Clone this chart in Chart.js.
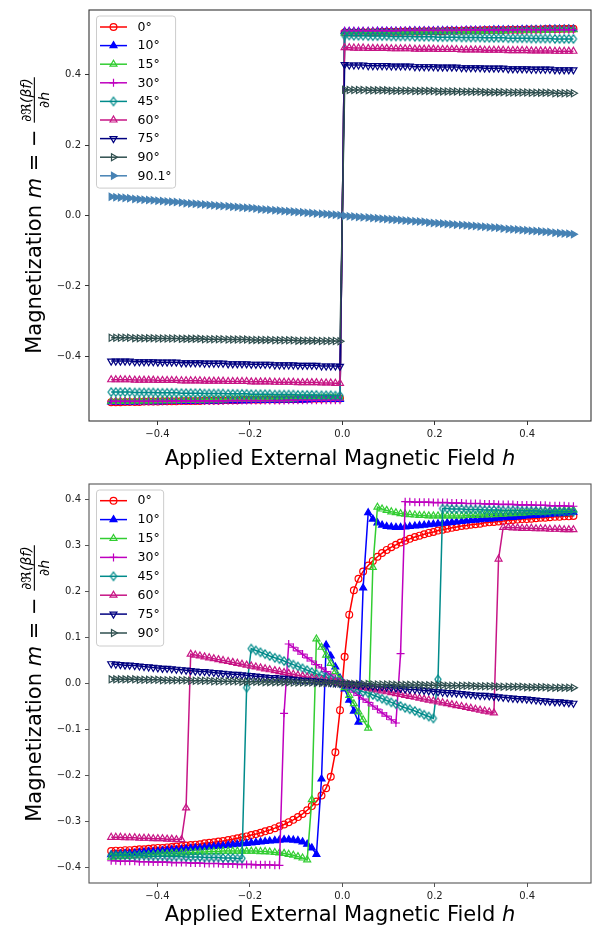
<!DOCTYPE html>
<html>
<head>
<meta charset="utf-8">
<script src="https://cdn.jsdelivr.net/npm/chart.js@4.4.0/dist/chart.umd.min.js"></script>
<style>
  html, body { margin: 0; padding: 0; background: #fff; }
  #wrap { position: relative; width: 592px; height: 929px; }
  canvas { position: absolute; left: 0; }
</style>
</head>
<body>
<div id="wrap">
  <canvas id="topChart" width="592" height="470" style="top:0;width:592px;height:470px"></canvas>
  <canvas id="bottomChart" width="592" height="459" style="top:470px;width:592px;height:459px"></canvas>
</div>
<script>
// applied field h (100 samples from -0.5 to 0.5)
const H = [-0.500,-0.490,-0.480,-0.470,-0.460,-0.449,-0.439,-0.429,-0.419,-0.409,
  -0.399,-0.389,-0.379,-0.369,-0.359,-0.348,-0.338,-0.328,-0.318,-0.308,
  -0.298,-0.288,-0.278,-0.268,-0.258,-0.247,-0.237,-0.227,-0.217,-0.207,
  -0.197,-0.187,-0.177,-0.167,-0.157,-0.146,-0.136,-0.126,-0.116,-0.106,
  -0.096,-0.086,-0.076,-0.066,-0.056,-0.045,-0.035,-0.025,-0.015,-0.005,
  0.005,0.015,0.025,0.035,0.045,0.056,0.066,0.076,0.086,0.096,
  0.106,0.116,0.126,0.136,0.146,0.157,0.167,0.177,0.187,0.197,
  0.207,0.217,0.227,0.237,0.247,0.258,0.268,0.278,0.288,0.298,
  0.308,0.318,0.328,0.338,0.348,0.359,0.369,0.379,0.389,0.399,
  0.409,0.419,0.429,0.439,0.449,0.460,0.470,0.480,0.490,0.500];

const TOP_LABELS = ['0°', '10°', '15°', '30°', '45°', '60°', '75°', '90°', '90.1°'];
const BOTTOM_LABELS = ['0°', '10°', '15°', '30°', '45°', '60°', '75°', '90°'];

const X_TICKS = [-0.4, -0.2, 0.0, 0.2, 0.4];
const Y_TICKS_TOP = [-0.4, -0.2, 0.0, 0.2, 0.4];
const Y_TICKS_BOTTOM = [-0.4, -0.3, -0.2, -0.1, 0.0, 0.1, 0.2, 0.3, 0.4];

const X_TITLE = ['Applied External Magnetic Field ', 'h'];
const Y_TITLE = ['Magnetization ', 'm', ' = \u2212 '];
const Y_FRAC = ['\u2202\u211C(\u03B2f)', '\u2202h'];

// ---- top panel ----
const T_0 = [-0.530,-0.530,-0.530,-0.529,-0.529,-0.529,-0.529,-0.528,-0.528,-0.528,
  -0.528,-0.527,-0.527,-0.527,-0.527,-0.526,-0.526,-0.526,-0.526,-0.526,
  -0.525,-0.525,-0.525,-0.525,-0.524,-0.524,-0.524,-0.524,-0.523,-0.523,
  -0.523,-0.523,-0.523,-0.522,-0.522,-0.522,-0.522,-0.521,-0.521,-0.521,
  -0.521,-0.521,-0.520,-0.520,-0.520,-0.520,-0.519,-0.519,-0.519,-0.519,
  0.519,0.519,0.519,0.519,0.520,0.520,0.520,0.520,0.521,0.521,
  0.521,0.521,0.521,0.522,0.522,0.522,0.522,0.523,0.523,0.523,
  0.523,0.523,0.524,0.524,0.524,0.524,0.525,0.525,0.525,0.525,
  0.526,0.526,0.526,0.526,0.526,0.527,0.527,0.527,0.527,0.528,
  0.528,0.528,0.528,0.529,0.529,0.529,0.529,0.530,0.530,0.530];
const T_10 = [-0.529,-0.529,-0.529,-0.529,-0.529,-0.529,-0.528,-0.528,-0.528,-0.528,
  -0.528,-0.528,-0.527,-0.527,-0.527,-0.527,-0.527,-0.527,-0.526,-0.526,
  -0.526,-0.526,-0.526,-0.526,-0.525,-0.525,-0.525,-0.525,-0.525,-0.525,
  -0.524,-0.524,-0.524,-0.524,-0.524,-0.524,-0.523,-0.523,-0.523,-0.523,
  -0.523,-0.523,-0.523,-0.522,-0.522,-0.522,-0.522,-0.522,-0.522,-0.522,
  0.522,0.522,0.522,0.522,0.522,0.522,0.522,0.523,0.523,0.523,
  0.523,0.523,0.523,0.523,0.524,0.524,0.524,0.524,0.524,0.524,
  0.525,0.525,0.525,0.525,0.525,0.525,0.526,0.526,0.526,0.526,
  0.526,0.526,0.527,0.527,0.527,0.527,0.527,0.527,0.528,0.528,
  0.528,0.528,0.528,0.528,0.529,0.529,0.529,0.529,0.529,0.529];
const T_15 = [-0.527,-0.527,-0.527,-0.527,-0.527,-0.526,-0.526,-0.526,-0.526,-0.526,
  -0.525,-0.525,-0.525,-0.525,-0.525,-0.524,-0.524,-0.524,-0.524,-0.524,
  -0.523,-0.523,-0.523,-0.523,-0.523,-0.522,-0.522,-0.522,-0.522,-0.522,
  -0.521,-0.521,-0.521,-0.521,-0.521,-0.520,-0.520,-0.520,-0.520,-0.520,
  -0.519,-0.519,-0.519,-0.519,-0.519,-0.518,-0.518,-0.518,-0.518,-0.518,
  0.518,0.518,0.518,0.518,0.518,0.519,0.519,0.519,0.519,0.519,
  0.520,0.520,0.520,0.520,0.520,0.521,0.521,0.521,0.521,0.521,
  0.522,0.522,0.522,0.522,0.522,0.523,0.523,0.523,0.523,0.523,
  0.524,0.524,0.524,0.524,0.524,0.525,0.525,0.525,0.525,0.525,
  0.526,0.526,0.526,0.526,0.526,0.527,0.527,0.527,0.527,0.527];
const T_30 = [-0.527,-0.527,-0.527,-0.527,-0.527,-0.527,-0.527,-0.527,-0.527,-0.527,
  -0.527,-0.527,-0.527,-0.526,-0.526,-0.526,-0.526,-0.526,-0.526,-0.526,
  -0.526,-0.526,-0.526,-0.526,-0.526,-0.525,-0.525,-0.525,-0.525,-0.525,
  -0.525,-0.525,-0.525,-0.525,-0.525,-0.525,-0.525,-0.525,-0.524,-0.524,
  -0.524,-0.524,-0.524,-0.524,-0.524,-0.524,-0.524,-0.524,-0.524,-0.524,
  0.524,0.524,0.524,0.524,0.524,0.524,0.524,0.524,0.524,0.524,
  0.524,0.524,0.525,0.525,0.525,0.525,0.525,0.525,0.525,0.525,
  0.525,0.525,0.525,0.525,0.525,0.526,0.526,0.526,0.526,0.526,
  0.526,0.526,0.526,0.526,0.526,0.526,0.526,0.527,0.527,0.527,
  0.527,0.527,0.527,0.527,0.527,0.527,0.527,0.527,0.527,0.527];
const T_45 = [-0.501,-0.501,-0.501,-0.501,-0.501,-0.502,-0.502,-0.502,-0.502,-0.502,
  -0.503,-0.503,-0.503,-0.503,-0.503,-0.504,-0.504,-0.504,-0.504,-0.504,
  -0.505,-0.505,-0.505,-0.505,-0.505,-0.506,-0.506,-0.506,-0.506,-0.506,
  -0.507,-0.507,-0.507,-0.507,-0.507,-0.508,-0.508,-0.508,-0.508,-0.508,
  -0.509,-0.509,-0.509,-0.509,-0.509,-0.510,-0.510,-0.510,-0.511,-0.511,
  0.511,0.511,0.510,0.510,0.510,0.509,0.509,0.509,0.509,0.509,
  0.508,0.508,0.508,0.508,0.508,0.507,0.507,0.507,0.507,0.507,
  0.506,0.506,0.506,0.506,0.506,0.505,0.505,0.505,0.505,0.505,
  0.504,0.504,0.504,0.504,0.504,0.503,0.503,0.503,0.503,0.503,
  0.502,0.502,0.502,0.502,0.502,0.501,0.501,0.501,0.501,0.501];
const T_60 = [-0.466,-0.466,-0.466,-0.466,-0.466,-0.467,-0.467,-0.467,-0.467,-0.467,
  -0.468,-0.468,-0.468,-0.468,-0.468,-0.469,-0.469,-0.469,-0.469,-0.469,
  -0.470,-0.470,-0.470,-0.470,-0.470,-0.471,-0.471,-0.471,-0.471,-0.471,
  -0.472,-0.472,-0.472,-0.472,-0.472,-0.473,-0.473,-0.473,-0.473,-0.473,
  -0.474,-0.474,-0.474,-0.474,-0.474,-0.475,-0.475,-0.475,-0.476,-0.476,
  0.476,0.476,0.475,0.475,0.475,0.474,0.474,0.474,0.474,0.474,
  0.473,0.473,0.473,0.473,0.473,0.472,0.472,0.472,0.472,0.472,
  0.471,0.471,0.471,0.471,0.471,0.470,0.470,0.470,0.470,0.470,
  0.469,0.469,0.469,0.469,0.469,0.468,0.468,0.468,0.468,0.468,
  0.467,0.467,0.467,0.467,0.467,0.466,0.466,0.466,0.466,0.466];
const T_75 = [-0.413,-0.413,-0.413,-0.413,-0.413,-0.415,-0.415,-0.415,-0.415,-0.415,
  -0.416,-0.416,-0.416,-0.416,-0.416,-0.418,-0.418,-0.418,-0.418,-0.418,
  -0.419,-0.419,-0.419,-0.419,-0.419,-0.421,-0.421,-0.421,-0.421,-0.421,
  -0.422,-0.422,-0.422,-0.422,-0.422,-0.424,-0.424,-0.424,-0.424,-0.424,
  -0.425,-0.425,-0.425,-0.425,-0.425,-0.427,-0.427,-0.427,-0.427,-0.428,
  0.428,0.427,0.427,0.427,0.427,0.425,0.425,0.425,0.425,0.425,
  0.424,0.424,0.424,0.424,0.424,0.422,0.422,0.422,0.422,0.422,
  0.421,0.421,0.421,0.421,0.421,0.419,0.419,0.419,0.419,0.419,
  0.418,0.418,0.418,0.418,0.418,0.416,0.416,0.416,0.416,0.416,
  0.415,0.415,0.415,0.415,0.415,0.413,0.413,0.413,0.413,0.413];
const T_90 = [-0.347,-0.347,-0.347,-0.347,-0.347,-0.348,-0.348,-0.348,-0.348,-0.348,
  -0.349,-0.349,-0.349,-0.349,-0.349,-0.350,-0.350,-0.350,-0.350,-0.350,
  -0.351,-0.351,-0.351,-0.351,-0.351,-0.352,-0.352,-0.352,-0.352,-0.352,
  -0.353,-0.353,-0.353,-0.353,-0.353,-0.354,-0.354,-0.354,-0.354,-0.354,
  -0.355,-0.355,-0.355,-0.355,-0.355,-0.356,-0.356,-0.356,-0.356,-0.357,
  0.357,0.356,0.356,0.356,0.356,0.355,0.355,0.355,0.355,0.355,
  0.354,0.354,0.354,0.354,0.354,0.353,0.353,0.353,0.353,0.353,
  0.352,0.352,0.352,0.352,0.352,0.351,0.351,0.351,0.351,0.351,
  0.350,0.350,0.350,0.350,0.350,0.349,0.349,0.349,0.349,0.349,
  0.348,0.348,0.348,0.348,0.348,0.347,0.347,0.347,0.347,0.347];
const T_901 = [0.053,0.052,0.051,0.050,0.049,0.047,0.046,0.045,0.044,0.043,
  0.042,0.041,0.040,0.039,0.038,0.037,0.035,0.034,0.033,0.032,
  0.031,0.030,0.029,0.028,0.027,0.026,0.025,0.024,0.023,0.022,
  0.021,0.020,0.018,0.017,0.016,0.015,0.014,0.013,0.012,0.011,
  0.010,0.009,0.008,0.007,0.006,0.005,0.004,0.003,0.002,0.001,
  -0.001,-0.002,-0.003,-0.004,-0.005,-0.006,-0.007,-0.008,-0.009,-0.010,
  -0.011,-0.012,-0.013,-0.014,-0.015,-0.016,-0.017,-0.018,-0.020,-0.021,
  -0.022,-0.023,-0.024,-0.025,-0.026,-0.027,-0.028,-0.029,-0.030,-0.031,
  -0.032,-0.033,-0.034,-0.035,-0.037,-0.038,-0.039,-0.040,-0.041,-0.042,
  -0.043,-0.044,-0.045,-0.046,-0.047,-0.049,-0.050,-0.051,-0.052,-0.053];

// ---- bottom panel ----
const B_0 = [-0.365,-0.364,-0.364,-0.363,-0.363,-0.362,-0.361,-0.361,-0.360,-0.359,
  -0.358,-0.358,-0.357,-0.356,-0.355,-0.354,-0.353,-0.352,-0.351,-0.350,
  -0.348,-0.347,-0.346,-0.344,-0.343,-0.341,-0.339,-0.337,-0.335,-0.333,
  -0.330,-0.328,-0.325,-0.322,-0.319,-0.315,-0.311,-0.307,-0.302,-0.297,
  -0.291,-0.284,-0.276,-0.267,-0.257,-0.244,-0.228,-0.203,-0.150,-0.058,
  0.058,0.150,0.203,0.228,0.244,0.257,0.267,0.276,0.284,0.291,
  0.297,0.302,0.307,0.311,0.315,0.319,0.322,0.325,0.328,0.330,
  0.333,0.335,0.337,0.339,0.341,0.343,0.344,0.346,0.347,0.348,
  0.350,0.351,0.352,0.353,0.354,0.355,0.356,0.357,0.358,0.358,
  0.359,0.360,0.361,0.361,0.362,0.363,0.363,0.364,0.364,0.365];
const B_10 = [-0.373,-0.372,-0.371,-0.370,-0.370,-0.369,-0.368,-0.367,-0.366,-0.366,
  -0.365,-0.364,-0.363,-0.362,-0.362,-0.361,-0.360,-0.359,-0.358,-0.358,
  -0.357,-0.356,-0.355,-0.354,-0.353,-0.352,-0.351,-0.350,-0.349,-0.348,
  -0.347,-0.346,-0.345,-0.344,-0.343,-0.342,-0.341,-0.340,-0.340,-0.341,
  -0.342,-0.345,-0.350,-0.358,-0.372,-0.208,0.084,0.060,0.036,0.012,
  -0.012,-0.036,-0.060,-0.084,0.208,0.372,0.358,0.350,0.345,0.342,
  0.341,0.340,0.340,0.341,0.342,0.343,0.344,0.345,0.346,0.347,
  0.348,0.349,0.350,0.351,0.352,0.353,0.354,0.355,0.356,0.357,
  0.358,0.358,0.359,0.360,0.361,0.362,0.362,0.363,0.364,0.365,
  0.366,0.366,0.367,0.368,0.369,0.370,0.370,0.371,0.372,0.373];
const B_15 = [-0.378,-0.377,-0.377,-0.376,-0.376,-0.375,-0.374,-0.374,-0.373,-0.373,
  -0.372,-0.371,-0.371,-0.370,-0.370,-0.369,-0.369,-0.368,-0.368,-0.367,
  -0.367,-0.366,-0.366,-0.366,-0.365,-0.365,-0.365,-0.365,-0.365,-0.365,
  -0.365,-0.365,-0.366,-0.366,-0.367,-0.368,-0.369,-0.370,-0.372,-0.374,
  -0.377,-0.380,-0.384,-0.253,0.097,0.079,0.062,0.044,0.026,0.009,
  -0.009,-0.026,-0.044,-0.062,-0.079,-0.097,0.253,0.384,0.380,0.377,
  0.374,0.372,0.370,0.369,0.368,0.367,0.366,0.366,0.365,0.365,
  0.365,0.365,0.365,0.365,0.365,0.365,0.366,0.366,0.366,0.367,
  0.367,0.368,0.368,0.369,0.369,0.370,0.370,0.371,0.371,0.372,
  0.373,0.373,0.374,0.374,0.375,0.376,0.376,0.377,0.377,0.378];
const B_30 = [-0.386,-0.386,-0.387,-0.387,-0.387,-0.387,-0.388,-0.388,-0.388,-0.389,
  -0.389,-0.389,-0.389,-0.390,-0.390,-0.390,-0.390,-0.391,-0.391,-0.391,
  -0.392,-0.392,-0.392,-0.392,-0.393,-0.393,-0.393,-0.394,-0.394,-0.394,
  -0.394,-0.395,-0.395,-0.395,-0.395,-0.396,-0.396,-0.065,0.086,0.079,
  0.071,0.064,0.056,0.049,0.041,0.034,0.026,0.019,0.011,0.004,
  -0.004,-0.011,-0.019,-0.026,-0.034,-0.041,-0.049,-0.056,-0.064,-0.071,
  -0.079,-0.086,0.065,0.396,0.396,0.395,0.395,0.395,0.395,0.394,
  0.394,0.394,0.394,0.393,0.393,0.393,0.392,0.392,0.392,0.392,
  0.391,0.391,0.391,0.390,0.390,0.390,0.390,0.389,0.389,0.389,
  0.389,0.388,0.388,0.388,0.387,0.387,0.387,0.387,0.386,0.386];
const B_45 = [-0.374,-0.374,-0.374,-0.374,-0.375,-0.375,-0.375,-0.375,-0.376,-0.376,
  -0.376,-0.376,-0.377,-0.377,-0.377,-0.377,-0.378,-0.378,-0.378,-0.378,
  -0.379,-0.379,-0.379,-0.379,-0.380,-0.380,-0.380,-0.381,-0.381,-0.009,
  0.076,0.072,0.068,0.064,0.060,0.056,0.053,0.049,0.045,0.041,
  0.037,0.033,0.029,0.025,0.021,0.018,0.014,0.010,0.006,0.002,
  -0.002,-0.006,-0.010,-0.014,-0.018,-0.021,-0.025,-0.029,-0.033,-0.037,
  -0.041,-0.045,-0.049,-0.053,-0.056,-0.060,-0.064,-0.068,-0.072,-0.076,
  0.009,0.381,0.381,0.380,0.380,0.380,0.379,0.379,0.379,0.379,
  0.378,0.378,0.378,0.378,0.377,0.377,0.377,0.377,0.376,0.376,
  0.376,0.376,0.375,0.375,0.375,0.375,0.374,0.374,0.374,0.374];
const B_60 = [-0.335,-0.335,-0.335,-0.336,-0.336,-0.336,-0.337,-0.337,-0.337,-0.338,
  -0.338,-0.338,-0.339,-0.339,-0.340,-0.340,-0.271,0.064,0.062,0.060,
  0.058,0.056,0.054,0.052,0.050,0.048,0.046,0.044,0.042,0.040,
  0.038,0.036,0.034,0.032,0.030,0.028,0.026,0.024,0.022,0.020,
  0.018,0.016,0.014,0.012,0.010,0.008,0.006,0.004,0.003,0.001,
  -0.001,-0.003,-0.004,-0.006,-0.008,-0.010,-0.012,-0.014,-0.016,-0.018,
  -0.020,-0.022,-0.024,-0.026,-0.028,-0.030,-0.032,-0.034,-0.036,-0.038,
  -0.040,-0.042,-0.044,-0.046,-0.048,-0.050,-0.052,-0.054,-0.056,-0.058,
  -0.060,-0.062,-0.064,0.271,0.340,0.340,0.339,0.339,0.338,0.338,
  0.338,0.337,0.337,0.337,0.336,0.336,0.336,0.335,0.335,0.335];
const B_75 = [0.043,0.042,0.041,0.040,0.040,0.039,0.038,0.037,0.036,0.035,
  0.034,0.033,0.033,0.032,0.031,0.030,0.029,0.028,0.027,0.026,
  0.026,0.025,0.024,0.023,0.022,0.021,0.020,0.020,0.019,0.018,
  0.017,0.016,0.015,0.014,0.013,0.013,0.012,0.011,0.010,0.009,
  0.008,0.007,0.007,0.006,0.005,0.004,0.003,0.002,0.001,0.000,
  0.000,-0.001,-0.002,-0.003,-0.004,-0.005,-0.006,-0.007,-0.007,-0.008,
  -0.009,-0.010,-0.011,-0.012,-0.013,-0.013,-0.014,-0.015,-0.016,-0.017,
  -0.018,-0.019,-0.020,-0.020,-0.021,-0.022,-0.023,-0.024,-0.025,-0.026,
  -0.026,-0.027,-0.028,-0.029,-0.030,-0.031,-0.032,-0.033,-0.033,-0.034,
  -0.035,-0.036,-0.037,-0.038,-0.039,-0.040,-0.040,-0.041,-0.042,-0.043];
const B_90 = [0.009,0.009,0.009,0.009,0.009,0.009,0.008,0.008,0.008,0.008,
  0.008,0.007,0.007,0.007,0.007,0.007,0.007,0.006,0.006,0.006,
  0.006,0.006,0.005,0.005,0.005,0.005,0.005,0.005,0.004,0.004,
  0.004,0.004,0.004,0.003,0.003,0.003,0.003,0.003,0.003,0.002,
  0.002,0.002,0.002,0.002,0.001,0.001,0.001,0.001,0.000,0.000,
  0.000,0.000,-0.001,-0.001,-0.001,-0.001,-0.002,-0.002,-0.002,-0.002,
  -0.002,-0.003,-0.003,-0.003,-0.003,-0.003,-0.003,-0.004,-0.004,-0.004,
  -0.004,-0.004,-0.005,-0.005,-0.005,-0.005,-0.005,-0.005,-0.006,-0.006,
  -0.006,-0.006,-0.006,-0.007,-0.007,-0.007,-0.007,-0.007,-0.007,-0.008,
  -0.008,-0.008,-0.008,-0.008,-0.009,-0.009,-0.009,-0.009,-0.009,-0.009];

const TOP_SERIES = [T_0, T_10, T_15, T_30, T_45, T_60, T_75, T_90, T_901];
const BOTTOM_SERIES = [B_0, B_10, B_15, B_30, B_45, B_60, B_75, B_90];

// marker / colour per angle (matplotlib look)
const STYLES = {
  '0°':    { color: '#ff0000', point: 'circle',   r: 3.4 },
  '10°':   { color: '#0000ff', point: 'triangle', r: 4, fill: true },
  '15°':   { color: '#32cd32', point: 'triangle', r: 4 },
  '30°':   { color: '#bf00bf', point: 'cross',    r: 4 },
  '45°':   { color: '#008b8b', point: 'diamond' },
  '60°':   { color: '#c71585', point: 'triangle', r: 4 },
  '75°':   { color: '#000080', point: 'triangle', r: 4, rot: 180 },
  '90°':   { color: '#2f4f4f', point: 'triangle', r: 4, rot: 90 },
  '90.1°': { color: '#4682b4', point: 'triangle', r: 4, rot: 90, fill: true }
};

const FONT = '"DejaVu Sans", sans-serif';
const LEGEND_FONT = '12.5px ' + FONT;

function thinDiamond(color) {
  const c = document.createElement('canvas');
  c.width = 10; c.height = 12;
  const g = c.getContext('2d');
  g.strokeStyle = color; g.lineWidth = 1.2;
  g.beginPath();
  g.moveTo(5, 1.8); g.lineTo(8.1, 6); g.lineTo(5, 10.2); g.lineTo(1.9, 6);
  g.closePath(); g.stroke();
  return c;
}

function buildSets(labels, series) {
  return labels.map((lab, i) => {
    const st = STYLES[lab];
    return {
      label: lab,
      data: H.map((h, k) => ({ x: h, y: series[i][k] })),
      borderColor: st.color,
      borderWidth: 1.5,
      pointStyle: st.point === 'diamond' ? thinDiamond(st.color) : st.point,
      pointRotation: st.rot || 0,
      pointRadius: st.r || 4,
      pointBorderWidth: 1.2,
      pointBorderColor: st.color,
      pointBackgroundColor: st.fill ? st.color : 'rgba(0,0,0,0)',
      tension: 0,
      fill: false,
      order: labels.length - i   // later series drawn on top, like matplotlib
    };
  });
}

function fmt(v) {
  return (v < -1e-9 ? '\u2212' : '') + Math.abs(v).toFixed(1);
}

function roundBox(ctx, x, y, w, h, r) {
  ctx.beginPath();
  ctx.moveTo(x + r, y);
  ctx.arcTo(x + w, y, x + w, y + h, r);
  ctx.arcTo(x + w, y + h, x, y + h, r);
  ctx.arcTo(x, y + h, x, y, r);
  ctx.arcTo(x, y, x + w, y, r);
  ctx.closePath();
}

// frame + legend box + axis titles
const decor = {
  id: 'decor',
  afterDraw(chart, args, o) {
    const ctx = chart.ctx, ca = chart.chartArea;
    ctx.save();
    // axes frame
    ctx.strokeStyle = o.frameColor; ctx.lineWidth = 1.1;
    ctx.strokeRect(ca.left, ca.top, ca.right - ca.left, ca.bottom - ca.top);

    // legend
    const sets = chart.data.datasets;
    ctx.font = LEGEND_FONT;
    const tw = Math.max(...sets.map(d => ctx.measureText(d.label).width));
    const x0 = ca.left + 7.5, y0 = ca.top + 6;
    const bw = 41 + tw + 4, bh = o.padTop + (sets.length - 1) * o.rowH + o.padBottom;
    roundBox(ctx, x0, y0, bw, bh, 3);
    ctx.fillStyle = 'rgba(255,255,255,0.8)'; ctx.fill();
    ctx.strokeStyle = '#cccccc'; ctx.lineWidth = 1; ctx.stroke();
    sets.forEach((d, i) => {
      const y = y0 + o.padTop + i * o.rowH;
      ctx.strokeStyle = d.borderColor; ctx.lineWidth = d.borderWidth;
      ctx.beginPath(); ctx.moveTo(x0 + 3.5, y); ctx.lineTo(x0 + 30.5, y); ctx.stroke();
      ctx.fillStyle = d.pointBackgroundColor;
      ctx.strokeStyle = d.pointBorderColor; ctx.lineWidth = d.pointBorderWidth;
      Chart.helpers.drawPoint(ctx, {
        pointStyle: d.pointStyle, rotation: d.pointRotation, radius: d.pointRadius, borderWidth: d.pointBorderWidth
      }, x0 + 17, y);
      ctx.fillStyle = '#000'; ctx.textBaseline = 'middle'; ctx.textAlign = 'left';
      ctx.font = LEGEND_FONT;
      ctx.fillText(d.label, x0 + 41, y + 0.5);
    });

    // x title
    const reg = o.titleSize + 'px ' + FONT, ita = 'italic ' + o.titleSize + 'px ' + FONT;
    ctx.fillStyle = '#000'; ctx.textBaseline = 'alphabetic'; ctx.textAlign = 'left';
    ctx.font = reg; const w1 = ctx.measureText(X_TITLE[0]).width;
    ctx.font = ita; const w2 = ctx.measureText(X_TITLE[1]).width;
    const xs = (ca.left + ca.right) / 2 - (w1 + w2) / 2;
    ctx.font = reg; ctx.fillText(X_TITLE[0], xs, o.xBase);
    ctx.font = ita; ctx.fillText(X_TITLE[1], xs + w1, o.xBase);

    // y title, rotated, with fraction
    const small = 'italic 14px ' + FONT;
    const parts = [[Y_TITLE[0], reg], [Y_TITLE[1], ita], [Y_TITLE[2], reg]];
    const pw = parts.map(p => { ctx.font = p[1]; return ctx.measureText(p[0]).width; });
    ctx.font = small;
    const nw = ctx.measureText(Y_FRAC[0]).width;
    const dw = ctx.measureText(Y_FRAC[1]).width;
    const fw = Math.max(nw, dw) + 2;
    const total = pw.reduce((a, b) => a + b, 0) + fw;
    ctx.translate(o.yBase, (ca.top + ca.bottom) / 2);
    ctx.rotate(-Math.PI / 2);
    let u = -total / 2;
    parts.forEach((p, i) => { ctx.font = p[1]; ctx.fillText(p[0], u, 0); u += pw[i]; });
    ctx.fillRect(u, -7.2, fw, 1.1);
    ctx.font = small;
    ctx.fillText(Y_FRAC[0], u + (fw - nw) / 2, -10);
    ctx.fillText(Y_FRAC[1], u + (fw - dw) / 2, 7.5);
    ctx.restore();
  }
};

function makeChart(id, labels, series, cfg) {
  const tickFont = { family: FONT, size: 10 };
  return new Chart(document.getElementById(id), {
    type: 'line',
    data: { datasets: buildSets(labels, series) },
    plugins: [decor],
    options: {
      responsive: false,
      animation: false,
      devicePixelRatio: 1,
      events: [],
      layout: { autoPadding: false, padding: { left: 0, right: 1, top: cfg.top, bottom: 0 } },
      plugins: {
        legend: { display: false },
        tooltip: { enabled: false },
        decor: cfg.decor
      },
      scales: {
        x: {
          type: 'linear', min: -0.548, max: 0.538,
          border: { display: false },
          grid: { display: true, drawOnChartArea: false, drawTicks: true, tickLength: 4, color: cfg.decor.frameColor },
          ticks: { font: tickFont, color: '#222', padding: 3, maxRotation: 0, callback: fmt },
          afterBuildTicks: s => { s.ticks = X_TICKS.map(v => ({ value: v })); },
          afterFit: s => { s.height = cfg.xAxisH; }
        },
        y: {
          type: 'linear', min: -cfg.yLim, max: cfg.yLim,
          border: { display: false },
          grid: { display: true, drawOnChartArea: false, drawTicks: true, tickLength: 4, color: cfg.decor.frameColor },
          ticks: { font: tickFont, color: '#222', padding: 4, callback: fmt },
          afterBuildTicks: s => { s.ticks = cfg.yTicks.map(v => ({ value: v })); },
          afterFit: s => { s.width = 89; }
        }
      }
    }
  });
}

makeChart('topChart', TOP_LABELS, TOP_SERIES, {
  top: 10, xAxisH: 49, yLim: 0.583, yTicks: Y_TICKS_TOP,
  decor: { frameColor: '#333', padTop: 11, rowH: 18.6, padBottom: 12.3, titleSize: 21, xBase: 465, yBase: 41 }
});
makeChart('bottomChart', BOTTOM_LABELS, BOTTOM_SERIES, {
  top: 14, xAxisH: 46, yLim: 0.4345, yTicks: Y_TICKS_BOTTOM,
  decor: { frameColor: '#555', padTop: 10.7, rowH: 18.9, padBottom: 13, titleSize: 21, xBase: 451, yBase: 41 }
});
</script>
</body>
</html>
